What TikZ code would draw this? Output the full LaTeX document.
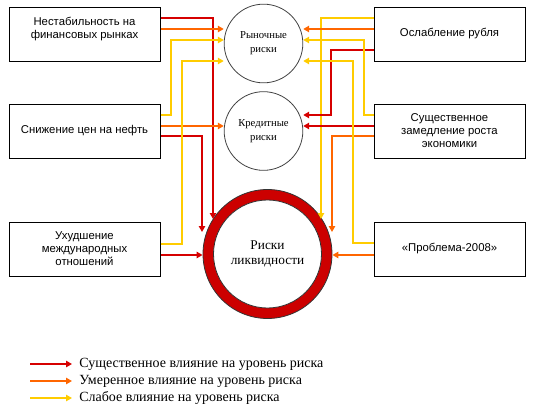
\documentclass[tikz,border=0pt]{standalone}
\usepackage{fontspec}
\setmainfont{Liberation Serif}
\setsansfont{Liberation Sans}
\usetikzlibrary{positioning, arrows.meta, calc}

\definecolor{strongred}{RGB}{214,0,0}
\definecolor{midorange}{RGB}{255,102,0}
\definecolor{weakyellow}{RGB}{255,204,0}
\definecolor{ringred}{RGB}{204,0,0}

\begin{document}
\begin{tikzpicture}[x=0.75pt, y=-0.75pt,
    factor/.style={draw=black, line width=0.75pt, minimum width=113.25pt, minimum height=40.5pt,
        inner sep=1pt, align=center, font=\sffamily\fontsize{8.5}{9.75}\selectfont},
    risk/.style={circle, draw=black!75, line width=0.6pt, minimum size=59pt, inner sep=0pt,
        align=center, font=\fontsize{8}{10.5}\selectfont},
    link/.style={line width=1.5pt, -{Triangle[length=4.5pt, width=4.8pt]}},
    strong/.style={link, draw=strongred},
    moderate/.style={link, draw=midorange},
    weak/.style={link, draw=weakyellow}]
    \useasboundingbox (0,0) rectangle (544,414);

    \node[factor] (fin) at (84.5,34) {Нестабильность на\\финансовых рынках\\\phantom{Х}};
    \node[factor] (oil) at (84.5,131) {Снижение цен на нефть};
    \node[factor] (intl) at (84.5,249) {Ухудшение\\международных\\отношений};
    \node[factor] (rub) at (449.5,34) {Ослабление рубля};
    \node[factor] (slow) at (449.5,131) {Существенное\\замедление роста\\экономики};
    \node[factor] (prob) at (449.5,249) {«Проблема-2008»};

    \node[risk] (mkt) at (263.5,43.5) {Рыночные\\риски};
    \node[risk] (cred) at (263.5,131) {Кредитные\\риски};
    \node[circle, draw=black!80, line width=0.6pt, fill=ringred, minimum size=96.75pt] (liq) at (267.5,254) {};
    \node[circle, draw=black!80, line width=0.6pt, fill=white, minimum size=81pt, inner sep=0pt,
        align=center, font=\fontsize{10}{11.25}\selectfont] (liqin) at (liq) {Риски\\ликвидности};

    \draw[strong] ($(fin.east)+(0,-16)$) -| ($(liq.center)+(-54.5,-35)$);
    \draw[moderate] ($(fin.east)+(0,-5)$) -- ($(mkt.west)+(0,-14.5)$);
    \draw[weak] ($(oil.east)+(0,-16)$) -- ++(10,0) |- ($(mkt.west)+(0,-3.5)$);
    \draw[moderate] ($(oil.east)+(0,-5)$) -- ($(cred.west)+(0,-5)$);
    \draw[strong] ($(oil.east)+(0,5)$) -| ($(liq.center)+(-65.5,-22)$);
    \draw[weak] ($(intl.east)+(0,-5)$) -- ++(21,0) |- ($(mkt.west)+(0,17.5)$);
    \draw[strong] ($(intl.east)+(0,6)$) -- ($(liq.west)+(0,1)$);

    \draw[weak] ($(rub.west)+(0,-16)$) -| ($(liq.center)+(53.5,-35)$);
    \draw[moderate] ($(rub.west)+(0,-5)$) -- ($(mkt.east)+(0,-14.5)$);
    \draw[strong] ($(rub.west)+(0,16)$) -- ++(-43,0) |- ($(cred.east)+(0,-16)$);
    \draw[weak] ($(slow.west)+(0,-16)$) -- ++(-10,0) |- ($(mkt.east)+(0,-3.5)$);
    \draw[strong] ($(slow.west)+(0,-5)$) -- ($(cred.east)+(0,-5)$);
    \draw[moderate] ($(slow.west)+(0,5)$) -| ($(liq.center)+(64.5,-22)$);
    \draw[weak] ($(prob.west)+(0,-6)$) -- ++(-21,0) |- ($(mkt.east)+(0,17.5)$);
    \draw[moderate] ($(prob.west)+(0,6)$) -- ($(liq.east)+(0,1)$);

    \foreach \lvl/\word/\yy in {strong/Существенное/364, moderate/Умеренное/381, weak/Слабое/398} {
        \node[anchor=west, inner sep=0pt, font=\fontsize{10.5}{12}\selectfont] (key-\lvl) at (79,\yy) {\word{} влияние на уровень риска};
        \draw[\lvl] ($(key-\lvl.west)+(-49,0)$) -- ($(key-\lvl.west)+(-7,0)$);
    }
\end{tikzpicture}
\end{document}
